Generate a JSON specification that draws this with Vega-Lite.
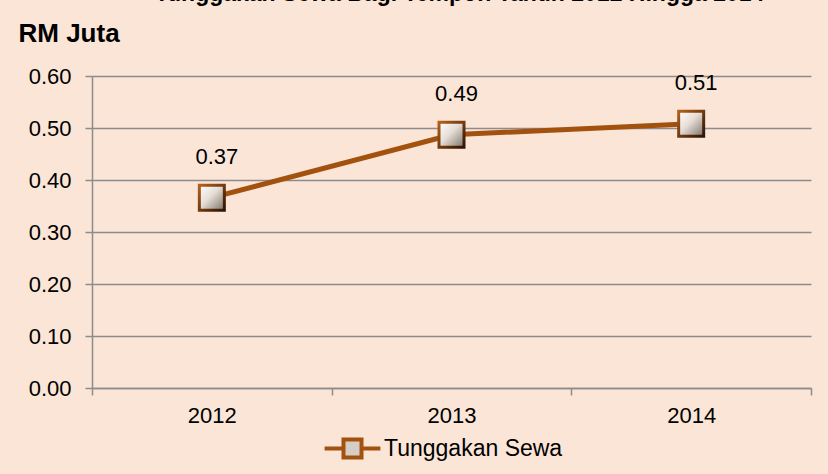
{
  "$schema": "https://vega.github.io/schema/vega-lite/v6.json",
  "width": 719,
  "height": 312,
  "autosize": {"type": "none"},
  "padding": {"left": 92, "top": 76, "right": 17, "bottom": 86},
  "background": "#FBE5D6",
  "title": {
    "text": "Tunggakan Sewa Bagi Tempoh Tahun 2012 Hingga 2014",
    "font": "Liberation Sans",
    "fontSize": 23,
    "fontWeight": "bold",
    "color": "#000000",
    "anchor": "middle",
    "frame": "group",
    "baseline": "alphabetic",
    "offset": 0,
    "dx": 8,
    "dy": 4
  },
  "data": {
    "values": [
      {"year": "2012", "value": 0.366, "series": "Tunggakan Sewa"},
      {"year": "2013", "value": 0.487, "series": "Tunggakan Sewa"},
      {"year": "2014", "value": 0.508, "series": "Tunggakan Sewa"}
    ]
  },
  "encoding": {
    "x": {
      "field": "year",
      "type": "ordinal",
      "scale": {"type": "band", "paddingInner": 0, "paddingOuter": 0},
      "axis": {
        "title": null,
        "labelAngle": 0,
        "labelFont": "Liberation Sans",
        "labelFontSize": 22,
        "labelColor": "#000000",
        "labelPadding": 10,
        "tickBand": "extent",
        "tickSize": 7,
        "tickColor": "#8C8C8C",
        "tickWidth": 1.5,
        "domainColor": "#8C8C8C",
        "domainWidth": 1.5,
        "grid": false
      }
    },
    "y": {
      "field": "value",
      "type": "quantitative",
      "scale": {"domain": [0, 0.6], "nice": false, "zero": true},
      "axis": {
        "values": [0, 0.1, 0.2, 0.3, 0.4, 0.5, 0.6],
        "format": ".2f",
        "title": "RM Juta",
        "titleAngle": 0,
        "titleX": -74,
        "titleY": -35,
        "titleAlign": "left",
        "titleBaseline": "alphabetic",
        "titleFont": "Liberation Sans",
        "titleFontSize": 26,
        "titleFontWeight": "bold",
        "titleColor": "#000000",
        "labelFont": "Liberation Sans",
        "labelFontSize": 22,
        "labelColor": "#000000",
        "labelPadding": 14,
        "tickSize": 7,
        "tickColor": "#8C8C8C",
        "tickWidth": 1.5,
        "domainColor": "#8C8C8C",
        "domainWidth": 1.5,
        "grid": true,
        "gridColor": "#8C8C8C",
        "gridWidth": 1.5
      }
    }
  },
  "layer": [
    {
      "mark": {"type": "line", "strokeWidth": 5, "strokeCap": "round"},
      "encoding": {
        "stroke": {
          "field": "series",
          "type": "nominal",
          "scale": {"range": ["#A3510F"]},
          "legend": {
            "title": null,
            "orient": "none",
            "legendX": 249,
            "legendY": 361,
            "symbolType": "M-3.1,0H-1M1,0H3.1M-1,-1H1V1H-1Z",
            "symbolSize": 324,
            "symbolStrokeWidth": 4,
            "symbolStrokeColor": "#A3510F",
            "symbolFillColor": "#D6CEC6",
            "labelOffset": 20,
            "labelLimit": 400,
            "labelFont": "Liberation Sans",
            "labelFontSize": 23,
            "labelColor": "#000000",
            "padding": 0
          }
        }
      }
    },
    {
      "mark": {
        "type": "point",
        "shape": "square",
        "size": 625,
        "filled": true,
        "opacity": 1,
        "fill": {
          "gradient": "linear",
          "x1": 0, "y1": 0, "x2": 1, "y2": 1,
          "stops": [
            {"offset": 0, "color": "#FFFFFF"},
            {"offset": 0.45, "color": "#E6DED6"},
            {"offset": 1, "color": "#7A7068"}
          ]
        },
        "stroke": {
          "gradient": "linear",
          "x1": 0, "y1": 0, "x2": 1, "y2": 1,
          "stops": [
            {"offset": 0, "color": "#B5601A"},
            {"offset": 1, "color": "#2E1505"}
          ]
        },
        "strokeWidth": 3
      }
    },
    {
      "mark": {
        "type": "text",
        "font": "Liberation Sans",
        "fontSize": 22,
        "color": "#000000",
        "baseline": "alphabetic",
        "dx": 5,
        "dy": -34
      },
      "encoding": {
        "text": {"field": "value", "type": "quantitative", "format": ".2f"}
      }
    }
  ],
  "config": {
    "view": {"stroke": null}
  }
}
